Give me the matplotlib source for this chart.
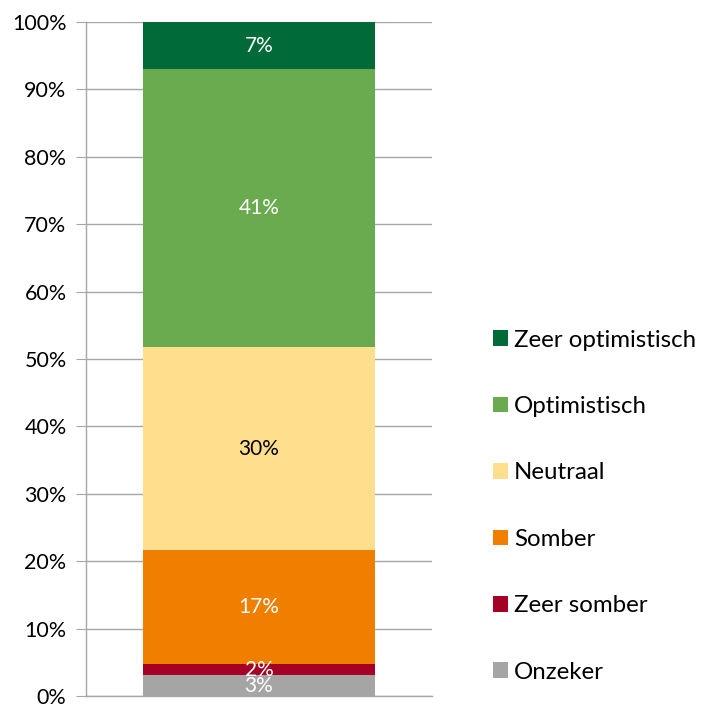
import matplotlib.pyplot as plt
from matplotlib.patches import Patch
from matplotlib.ticker import FuncFormatter

plt.rcParams['font.family'] = ['Lato', 'DejaVu Sans']

categories = ['Onzeker', 'Zeer somber', 'Somber', 'Neutraal', 'Optimistisch', 'Zeer optimistisch']
values = [3.1, 1.6, 16.9, 30.2, 41.2, 7.0]
labels = ['3%', '2%', '17%', '30%', '41%', '7%']
colors = ['#A5A5A5', '#A50026', '#F07F00', '#FFDF8E', '#6AAB4F', '#006A38']
text_colors = ['white', 'white', 'white', 'black', 'white', 'white']

fig = plt.figure(figsize=(7.03, 7.04), dpi=100)
ax = fig.add_axes([0.1223, 0.0114, 0.4922, 0.9574])

bottom = 0
for val, col, lab, tc in zip(values, colors, labels, text_colors):
    ax.bar(0, val, bottom=bottom, width=0.668, color=col, zorder=3)
    ax.text(0, bottom + val / 2, lab, ha='center', va='center', color=tc, fontsize=15, zorder=4)
    bottom += val

ax.set_xlim(-0.5, 0.5)
ax.set_ylim(0, 100)
ax.set_yticks(range(0, 101, 10))
ax.yaxis.set_major_formatter(FuncFormatter(lambda v, _: f'{v:.0f}%'))
ax.tick_params(axis='y', labelsize=15.5, length=7, color='#A6A6A6', pad=7)
ax.set_xticks([])
ax.grid(axis='y', color='#A6A6A6', linewidth=1, zorder=0)
for s in ['top', 'right']:
    ax.spines[s].set_visible(False)
for s in ['left', 'bottom']:
    ax.spines[s].set_color('#A6A6A6')
    ax.spines[s].set_linewidth(1)

handles = [Patch(facecolor=c, label=n) for c, n in zip(colors, categories)][::-1]
fig.legend(handles=handles, loc='center left', bbox_to_anchor=(0.688, 0.281), frameon=False,
           fontsize=17.3, labelspacing=1.89, handlelength=0.62, handleheight=0.62,
           handletextpad=0.25, borderaxespad=0)

fig.savefig('out.png', dpi=100)
